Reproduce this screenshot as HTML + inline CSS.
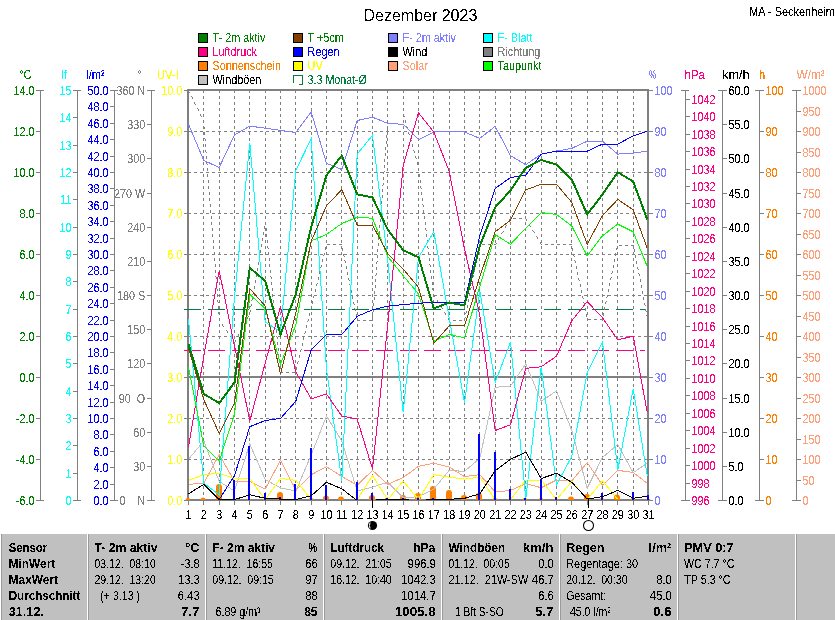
<!DOCTYPE html>
<html><head><meta charset="utf-8"><title>Dezember 2023</title>
<style>
html,body{margin:0;padding:0;background:#fff}
body{width:835px;height:620px;position:relative;overflow:hidden;font-family:"Liberation Sans",sans-serif;color:#000}
</style></head><body>
<svg width="835" height="620" viewBox="0 0 835 620" style="position:absolute;left:0;top:0" font-family="Liberation Sans, sans-serif">
<defs><filter id="aa" x="0" y="0" width="100%" height="100%" filterUnits="userSpaceOnUse" color-interpolation-filters="sRGB"><feComponentTransfer><feFuncA type="discrete" tableValues="0 0 0 0 0 0 0 0 0 1 1 1 1 1 1 1 1 1 1 1"/></feComponentTransfer></filter></defs>
<rect x="0" y="0" width="835" height="620" fill="#fff"/>
<g stroke="#808080" stroke-width="1" stroke-dasharray="3,3" shape-rendering="crispEdges">
<line x1="203.5" y1="90" x2="203.5" y2="499"/>
<line x1="219.5" y1="90" x2="219.5" y2="499"/>
<line x1="234.5" y1="90" x2="234.5" y2="499"/>
<line x1="249.5" y1="90" x2="249.5" y2="499"/>
<line x1="265.5" y1="90" x2="265.5" y2="499"/>
<line x1="280.5" y1="90" x2="280.5" y2="499"/>
<line x1="295.5" y1="90" x2="295.5" y2="499"/>
<line x1="311.5" y1="90" x2="311.5" y2="499"/>
<line x1="326.5" y1="90" x2="326.5" y2="499"/>
<line x1="341.5" y1="90" x2="341.5" y2="499"/>
<line x1="357.5" y1="90" x2="357.5" y2="499"/>
<line x1="372.5" y1="90" x2="372.5" y2="499"/>
<line x1="387.5" y1="90" x2="387.5" y2="499"/>
<line x1="403.5" y1="90" x2="403.5" y2="499"/>
<line x1="418.5" y1="90" x2="418.5" y2="499"/>
<line x1="433.5" y1="90" x2="433.5" y2="499"/>
<line x1="449.5" y1="90" x2="449.5" y2="499"/>
<line x1="464.5" y1="90" x2="464.5" y2="499"/>
<line x1="479.5" y1="90" x2="479.5" y2="499"/>
<line x1="495.5" y1="90" x2="495.5" y2="499"/>
<line x1="510.5" y1="90" x2="510.5" y2="499"/>
<line x1="525.5" y1="90" x2="525.5" y2="499"/>
<line x1="541.5" y1="90" x2="541.5" y2="499"/>
<line x1="556.5" y1="90" x2="556.5" y2="499"/>
<line x1="571.5" y1="90" x2="571.5" y2="499"/>
<line x1="587.5" y1="90" x2="587.5" y2="499"/>
<line x1="602.5" y1="90" x2="602.5" y2="499"/>
<line x1="617.5" y1="90" x2="617.5" y2="499"/>
<line x1="633.5" y1="90" x2="633.5" y2="499"/>
<line x1="188" y1="131.5" x2="648" y2="131.5"/>
<line x1="188" y1="172.5" x2="648" y2="172.5"/>
<line x1="188" y1="213.5" x2="648" y2="213.5"/>
<line x1="188" y1="254.5" x2="648" y2="254.5"/>
<line x1="188" y1="295.5" x2="648" y2="295.5"/>
<line x1="188" y1="336.5" x2="648" y2="336.5"/>
<line x1="188" y1="418.5" x2="648" y2="418.5"/>
<line x1="188" y1="459.5" x2="648" y2="459.5"/>
</g>
<line x1="189" y1="377" x2="648" y2="377" stroke="#808080" stroke-width="2" shape-rendering="crispEdges"/>
<rect x="188" y="90" width="460" height="410" fill="none" stroke="#808080" stroke-width="2" shape-rendering="crispEdges"/>
<path d="M185.5 500A2.5 2.0 0 0 1 190.5 500Z" fill="#ff8000"/>
<path d="M200.5 500A2.5 2.5 0 0 1 205.5 500Z" fill="#ff8000"/>
<path d="M216 500V487.0A3 3 0 0 1 222 487.0V500Z" fill="#ff8000"/>
<path d="M231.5 500A2.5 1.5 0 0 1 236.5 500Z" fill="#ff8000"/>
<path d="M246.5 500A2.5 1.5 0 0 1 251.5 500Z" fill="#ff8000"/>
<path d="M262.5 500A2.5 1.5 0 0 1 267.5 500Z" fill="#ff8000"/>
<path d="M277 500V495.0A3 3 0 0 1 283 495.0V500Z" fill="#ff8000"/>
<path d="M292.5 500A2.5 1.5 0 0 1 297.5 500Z" fill="#ff8000"/>
<path d="M308.5 500A2.5 2.0 0 0 1 313.5 500Z" fill="#ff8000"/>
<path d="M323 500V498.5A3 3 0 0 1 329 498.5V500Z" fill="#ff8000"/>
<path d="M338 500V499.5A3 3 0 0 1 344 499.5V500Z" fill="#ff8000"/>
<path d="M354.5 500A2.5 1.5 0 0 1 359.5 500Z" fill="#ff8000"/>
<path d="M369 500V498.0A3 3 0 0 1 375 498.0V500Z" fill="#ff8000"/>
<path d="M384.5 500A2.5 2.5 0 0 1 389.5 500Z" fill="#ff8000"/>
<path d="M400 500V498.0A3 3 0 0 1 406 498.0V500Z" fill="#ff8000"/>
<path d="M415 500V496.0A3 3 0 0 1 421 496.0V500Z" fill="#ff8000"/>
<path d="M430 500V489.0A3 3 0 0 1 436 489.0V500Z" fill="#ff8000"/>
<path d="M446 500V493.0A3 3 0 0 1 452 493.0V500Z" fill="#ff8000"/>
<path d="M461 500V498.0A3 3 0 0 1 467 498.0V500Z" fill="#ff8000"/>
<path d="M476 500V496.0A3 3 0 0 1 482 496.0V500Z" fill="#ff8000"/>
<path d="M492.5 500A2.5 2.0 0 0 1 497.5 500Z" fill="#ff8000"/>
<path d="M507.5 500A2.5 1.5 0 0 1 512.5 500Z" fill="#ff8000"/>
<path d="M522.5 500A2.5 2.0 0 0 1 527.5 500Z" fill="#ff8000"/>
<path d="M538.5 500A2.5 2.0 0 0 1 543.5 500Z" fill="#ff8000"/>
<path d="M553.5 500A2.5 1.5 0 0 1 558.5 500Z" fill="#ff8000"/>
<path d="M568 500V499.5A3 3 0 0 1 574 499.5V500Z" fill="#ff8000"/>
<path d="M584 500V497.0A3 3 0 0 1 590 497.0V500Z" fill="#ff8000"/>
<path d="M599.5 500A2.5 2.0 0 0 1 604.5 500Z" fill="#ff8000"/>
<path d="M614 500V497.5A3 3 0 0 1 620 497.5V500Z" fill="#ff8000"/>
<path d="M630.5 500A2.5 2.0 0 0 1 635.5 500Z" fill="#ff8000"/>
<path d="M645.5 500A2.5 1.5 0 0 1 650.5 500Z" fill="#ff8000"/>
<line x1="184" y1="309.5" x2="645" y2="309.5" stroke="#008040" stroke-width="1" stroke-dasharray="17,7" shape-rendering="crispEdges"/>
<line x1="184" y1="350.5" x2="645" y2="350.5" stroke="#ff0080" stroke-width="1" stroke-dasharray="17,7" shape-rendering="crispEdges"/>
<clipPath id="cp"><rect x="187" y="89" width="461" height="410"/></clipPath>
<g fill="none" shape-rendering="crispEdges" stroke-linejoin="miter" clip-path="url(#cp)">
<path d="M188 90.5h1M188 91.5h1M189 92.5h1M191 96.5h1M192 97.5h1M192 98.5h1M194 102.5h1M194 103.5h1M195 104.5h1M197 108.5h1M198 109.5h1M198 110.5h1M200 114.5h1M403 114.5h1M200 115.5h1M403 115.5h1M201 116.5h1M404 116.5h1M203 120.5h1M405 120.5h1M203 121.5h1M405 121.5h1M203 122.5h1M405 122.5h1M203 126.5h1M406 126.5h1M204 127.5h1M407 127.5h1M204 128.5h1M407 128.5h1M387 129.5h1M387 130.5h1M387 131.5h1M204 132.5h1M408 132.5h1M204 133.5h1M408 133.5h1M204 134.5h1M409 134.5h1M386 135.5h1M386 136.5h1M386 137.5h1M204 138.5h1M410 138.5h1M205 139.5h1M410 139.5h1M205 140.5h1M411 140.5h1M386 141.5h1M386 142.5h1M386 143.5h1M205 144.5h1M412 144.5h1M205 145.5h1M412 145.5h1M205 146.5h1M412 146.5h1M385 147.5h1M385 148.5h1M385 149.5h1M205 150.5h1M413 150.5h1M205 151.5h1M414 151.5h1M206 152.5h1M414 152.5h1M385 153.5h1M385 154.5h1M385 155.5h1M206 156.5h1M415 156.5h1M206 157.5h1M415 157.5h1M206 158.5h1M416 158.5h1M384 159.5h1M384 160.5h1M384 161.5h1M206 162.5h1M417 162.5h1M206 163.5h1M417 163.5h1M207 164.5h1M417 164.5h1M384 165.5h1M384 166.5h1M384 167.5h1M207 168.5h1M418 168.5h1M207 169.5h1M418 169.5h1M207 170.5h1M418 170.5h1M384 171.5h1M383 172.5h1M383 173.5h1M207 174.5h1M419 174.5h1M207 175.5h1M419 175.5h1M207 176.5h1M419 176.5h1M383 177.5h1M383 178.5h1M383 179.5h1M208 180.5h1M420 180.5h1M208 181.5h1M420 181.5h1M208 182.5h1M420 182.5h1M383 183.5h1M383 184.5h1M382 185.5h1M208 186.5h1M420 186.5h1M208 187.5h1M420 187.5h1M208 188.5h1M421 188.5h1M382 189.5h1M382 190.5h1M382 191.5h1M209 192.5h1M421 192.5h1M209 193.5h1M421 193.5h1M209 194.5h1M421 194.5h1M382 195.5h1M382 196.5h1M382 197.5h1M209 198.5h1M422 198.5h1M209 199.5h1M422 199.5h1M209 200.5h1M422 200.5h1M381 201.5h1M381 202.5h1M381 203.5h1M210 204.5h1M422 204.5h1M210 205.5h1M423 205.5h1M210 206.5h1M423 206.5h1M381 207.5h1M381 208.5h1M381 209.5h1M210 210.5h1M423 210.5h1M210 211.5h1M423 211.5h1M210 212.5h1M423 212.5h1M380 213.5h1M380 214.5h1M380 215.5h1M211 216.5h1M424 216.5h1M211 217.5h1M424 217.5h1M211 218.5h1M424 218.5h1M513 218.5h3M519 218.5h3M525 218.5h1M380 219.5h1M509 219.5h1M526 219.5h1M380 220.5h1M509 220.5h1M526 220.5h1M380 221.5h1M508 221.5h1M211 222.5h1M265 222.5h1M425 222.5h1M211 223.5h1M265 223.5h1M425 223.5h1M211 224.5h1M265 224.5h1M425 224.5h1M529 224.5h1M379 225.5h1M506 225.5h1M529 225.5h1M264 226.5h1M379 226.5h1M505 226.5h1M530 226.5h1M264 227.5h1M379 227.5h1M505 227.5h1M212 228.5h1M264 228.5h1M266 228.5h1M425 228.5h1M212 229.5h1M266 229.5h1M425 229.5h1M212 230.5h1M266 230.5h1M426 230.5h1M532 230.5h1M379 231.5h1M503 231.5h1M533 231.5h1M263 232.5h1M379 232.5h1M502 232.5h1M534 232.5h1M263 233.5h1M379 233.5h1M501 233.5h1M212 234.5h1M263 234.5h1M266 234.5h1M426 234.5h1M212 235.5h1M266 235.5h1M426 235.5h1M212 236.5h1M266 236.5h1M426 236.5h1M536 236.5h1M378 237.5h1M499 237.5h1M537 237.5h1M262 238.5h1M378 238.5h1M498 238.5h1M537 238.5h1M262 239.5h1M378 239.5h1M498 239.5h1M213 240.5h1M262 240.5h1M267 240.5h1M427 240.5h1M213 241.5h1M267 241.5h1M427 241.5h1M213 242.5h1M267 242.5h1M427 242.5h1M540 242.5h1M378 243.5h1M496 243.5h1M540 243.5h1M261 244.5h1M327 244.5h3M333 244.5h3M339 244.5h3M378 244.5h1M482 244.5h3M488 244.5h3M494 244.5h2M541 244.5h1M545 244.5h3M551 244.5h3M557 244.5h3M563 244.5h3M569 244.5h3M261 245.5h1M378 245.5h1M479 245.5h1M619 245.5h3M625 245.5h3M631 245.5h3M213 246.5h1M261 246.5h1M267 246.5h1M427 246.5h1M479 246.5h1M213 247.5h1M267 247.5h1M325 247.5h1M427 247.5h1M478 247.5h1M617 247.5h1M213 248.5h1M268 248.5h1M325 248.5h1M342 248.5h1M428 248.5h1M572 248.5h1M616 248.5h1M325 249.5h1M342 249.5h1M377 249.5h1M572 249.5h1M616 249.5h1M634 249.5h1M260 250.5h1M342 250.5h1M377 250.5h1M572 250.5h1M634 250.5h1M260 251.5h1M377 251.5h1M478 251.5h1M634 251.5h1M214 252.5h1M260 252.5h1M268 252.5h1M428 252.5h1M477 252.5h1M214 253.5h1M268 253.5h1M324 253.5h1M428 253.5h1M477 253.5h1M615 253.5h1M214 254.5h1M268 254.5h1M324 254.5h1M343 254.5h1M428 254.5h1M573 254.5h1M615 254.5h1M323 255.5h1M343 255.5h1M377 255.5h1M573 255.5h1M615 255.5h1M635 255.5h1M259 256.5h1M344 256.5h1M377 256.5h1M574 256.5h1M635 256.5h1M259 257.5h1M377 257.5h1M476 257.5h1M635 257.5h1M214 258.5h1M259 258.5h1M269 258.5h1M429 258.5h1M476 258.5h1M214 259.5h1M269 259.5h1M322 259.5h1M429 259.5h1M476 259.5h1M614 259.5h1M214 260.5h1M269 260.5h1M322 260.5h1M344 260.5h1M429 260.5h1M574 260.5h1M614 260.5h1M322 261.5h1M345 261.5h1M377 261.5h1M575 261.5h1M614 261.5h1M636 261.5h1M258 262.5h1M345 262.5h1M376 262.5h1M575 262.5h1M636 262.5h1M258 263.5h1M376 263.5h1M475 263.5h1M636 263.5h1M215 264.5h1M258 264.5h1M269 264.5h1M429 264.5h1M475 264.5h1M215 265.5h1M269 265.5h1M321 265.5h1M430 265.5h1M475 265.5h1M613 265.5h1M215 266.5h1M269 266.5h1M321 266.5h1M346 266.5h1M430 266.5h1M576 266.5h1M613 266.5h1M320 267.5h1M346 267.5h1M376 267.5h1M576 267.5h1M613 267.5h1M637 267.5h1M257 268.5h1M346 268.5h1M376 268.5h1M576 268.5h1M637 268.5h1M257 269.5h1M376 269.5h1M474 269.5h1M638 269.5h1M215 270.5h1M257 270.5h1M270 270.5h1M430 270.5h1M474 270.5h1M215 271.5h1M270 271.5h1M319 271.5h1M430 271.5h1M474 271.5h1M612 271.5h1M215 272.5h1M270 272.5h1M319 272.5h1M347 272.5h1M430 272.5h1M577 272.5h1M612 272.5h1M319 273.5h1M347 273.5h1M376 273.5h1M577 273.5h1M611 273.5h1M638 273.5h1M256 274.5h1M347 274.5h1M376 274.5h1M577 274.5h1M639 274.5h1M256 275.5h1M375 275.5h1M473 275.5h1M639 275.5h1M215 276.5h1M256 276.5h1M270 276.5h1M431 276.5h1M473 276.5h1M216 277.5h1M271 277.5h1M318 277.5h1M431 277.5h1M472 277.5h1M611 277.5h1M216 278.5h1M271 278.5h1M318 278.5h1M348 278.5h1M431 278.5h1M578 278.5h1M610 278.5h1M318 279.5h1M348 279.5h1M375 279.5h1M578 279.5h1M610 279.5h1M640 279.5h1M255 280.5h1M349 280.5h1M375 280.5h1M579 280.5h1M640 280.5h1M255 281.5h1M375 281.5h1M472 281.5h1M640 281.5h1M216 282.5h1M255 282.5h1M271 282.5h1M432 282.5h1M472 282.5h1M216 283.5h1M271 283.5h1M317 283.5h1M432 283.5h1M471 283.5h1M609 283.5h1M216 284.5h1M271 284.5h1M316 284.5h1M349 284.5h1M432 284.5h1M580 284.5h1M609 284.5h1M316 285.5h1M350 285.5h1M375 285.5h1M580 285.5h1M609 285.5h1M641 285.5h1M254 286.5h1M350 286.5h1M375 286.5h1M580 286.5h1M641 286.5h1M254 287.5h1M375 287.5h1M471 287.5h1M641 287.5h1M216 288.5h1M254 288.5h1M272 288.5h1M432 288.5h1M470 288.5h1M217 289.5h1M272 289.5h1M315 289.5h1M432 289.5h1M470 289.5h1M608 289.5h1M217 290.5h1M272 290.5h1M315 290.5h1M351 290.5h1M433 290.5h1M581 290.5h1M608 290.5h1M315 291.5h1M351 291.5h1M374 291.5h1M581 291.5h1M608 291.5h1M642 291.5h1M253 292.5h1M351 292.5h1M374 292.5h1M581 292.5h1M642 292.5h1M253 293.5h1M374 293.5h1M469 293.5h1M642 293.5h1M217 294.5h1M252 294.5h1M272 294.5h1M433 294.5h1M469 294.5h1M217 295.5h1M272 295.5h1M314 295.5h1M434 295.5h1M469 295.5h1M607 295.5h1M217 296.5h1M272 296.5h1M313 296.5h1M352 296.5h1M434 296.5h1M582 296.5h1M607 296.5h1M313 297.5h1M352 297.5h1M374 297.5h1M582 297.5h1M606 297.5h1M643 297.5h1M252 298.5h1M352 298.5h1M374 298.5h1M583 298.5h1M643 298.5h1M252 299.5h1M374 299.5h1M468 299.5h1M643 299.5h1M217 300.5h1M251 300.5h1M273 300.5h1M437 300.5h1M468 300.5h1M217 301.5h1M273 301.5h1M312 301.5h1M437 301.5h1M468 301.5h1M606 301.5h1M218 302.5h1M273 302.5h1M312 302.5h1M353 302.5h1M438 302.5h1M583 302.5h1M605 302.5h1M312 303.5h1M353 303.5h1M373 303.5h1M584 303.5h1M605 303.5h1M644 303.5h1M251 304.5h1M354 304.5h1M373 304.5h1M584 304.5h1M644 304.5h1M251 305.5h1M373 305.5h1M467 305.5h1M645 305.5h1M218 306.5h1M250 306.5h1M273 306.5h1M440 306.5h1M467 306.5h1M218 307.5h1M273 307.5h1M311 307.5h1M441 307.5h1M467 307.5h1M604 307.5h1M218 308.5h1M274 308.5h1M311 308.5h1M354 308.5h1M442 308.5h1M585 308.5h1M604 308.5h1M310 309.5h1M355 309.5h1M373 309.5h1M585 309.5h1M604 309.5h1M645 309.5h1M250 310.5h1M355 310.5h1M373 310.5h1M585 310.5h1M645 310.5h1M250 311.5h1M373 311.5h1M466 311.5h1M646 311.5h1M218 312.5h1M249 312.5h1M274 312.5h1M444 312.5h1M466 312.5h1M218 313.5h1M274 313.5h1M309 313.5h1M445 313.5h1M465 313.5h1M603 313.5h1M219 314.5h1M274 314.5h1M309 314.5h1M356 314.5h1M445 314.5h1M586 314.5h1M603 314.5h1M309 315.5h1M356 315.5h1M372 315.5h1M586 315.5h1M603 315.5h1M646 315.5h1M248 316.5h1M356 316.5h1M372 316.5h1M586 316.5h1M647 316.5h1M247 317.5h1M372 317.5h1M465 317.5h1M647 317.5h1M219 318.5h1M247 318.5h1M275 318.5h1M448 318.5h1M464 318.5h1M219 319.5h1M275 319.5h1M308 319.5h1M448 319.5h1M464 319.5h1M588 319.5h3M594 319.5h3M600 319.5h3M219 320.5h1M275 320.5h1M308 320.5h1M357 320.5h3M363 320.5h3M369 320.5h3M449 320.5h1M453 320.5h3M459 320.5h3M307 321.5h1M245 322.5h1M244 323.5h1M222 324.5h1M244 324.5h1M275 324.5h1M222 325.5h1M275 325.5h1M306 325.5h1M223 326.5h1M275 326.5h1M306 326.5h1M306 327.5h1M242 328.5h1M241 329.5h1M226 330.5h1M240 330.5h1M276 330.5h1M227 331.5h1M276 331.5h1M305 331.5h1M227 332.5h1M276 332.5h1M305 332.5h1M304 333.5h1M238 334.5h1M238 335.5h1M230 336.5h1M237 336.5h1M276 336.5h1M231 337.5h1M277 337.5h1M303 337.5h1M231 338.5h1M277 338.5h1M303 338.5h1M303 339.5h1M235 340.5h1M235 341.5h1M234 342.5h1M277 342.5h1M277 343.5h1M302 343.5h1M277 344.5h1M302 344.5h1M302 345.5h1M278 348.5h1M278 349.5h1M301 349.5h1M278 350.5h1M300 350.5h1M300 351.5h1M278 354.5h1M278 355.5h1M299 355.5h1M278 356.5h1M299 356.5h1M299 357.5h1M279 360.5h1M279 361.5h1M298 361.5h1M279 362.5h1M297 362.5h1M297 363.5h1M279 366.5h1M279 367.5h1M296 367.5h1M280 368.5h1M296 368.5h1M296 369.5h1M280 372.5h3M286 372.5h3M292 372.5h3" stroke="#808080" stroke-width="1" fill="none"/>
<polyline points="188.5,459.3 203.8,441.0 219.2,481.4 234.5,491.0 249.8,444.0 265.2,479.5 280.5,488.0 295.8,491.0 311.2,455.0 326.5,416.0 341.8,441.0 357.2,491.0 372.5,487.1 387.8,482.3 403.2,497.7 418.5,496.7 433.8,489.0 449.2,470.4 464.5,471.4 479.8,458.3 495.2,387.3 510.5,386.0 525.8,363.9 541.2,401.3 556.5,390.8 571.8,430.5 587.2,488.1 602.5,457.4 617.8,444.5 633.2,472.7 647.2,463.1" stroke="#c0c0c0" stroke-width="1"/>
<polyline points="188.5,484.3 203.8,483.3 219.2,454.5 234.5,481.4 249.8,481.4 265.2,489.0 280.5,460.3 295.8,490.0 311.2,474.7 326.5,466.6 341.8,476.5 357.2,485.2 372.5,470.4 387.8,484.3 403.2,477.5 418.5,466.4 433.8,463.1 449.2,467.0 464.5,476.6 479.8,474.7 495.2,492.0 510.5,490.4 525.8,483.7 541.2,487.7 556.5,480.0 571.8,480.8 587.2,462.6 602.5,485.2 617.8,470.4 633.2,472.4 647.2,483.3" stroke="#ffa07a" stroke-width="1"/>
<polyline points="188.5,480.4 203.8,474.7 219.2,473.3 234.5,478.5 249.8,478.5 265.2,499.6 280.5,478.5 295.8,480.4 311.2,499.6 326.5,499.6 341.8,499.6 357.2,499.6 372.5,475.6 387.8,499.6 403.2,481.0 418.5,499.6 433.8,474.7 449.2,477.2 464.5,479.1 479.8,477.2 495.2,499.6 510.5,499.6 525.8,480.0 541.2,480.0 556.5,499.6 571.8,481.4 587.2,499.6 602.5,480.8 617.8,499.6 633.2,499.6 647.2,499.6" stroke="#ffff00" stroke-width="1"/>
<polyline points="188.5,319.2 203.8,483.3 219.2,494.8 234.5,297.0 249.8,142.6 265.2,322.0 280.5,331.7 295.8,170.4 311.2,138.7 326.5,369.0 341.8,481.0 357.2,154.1 372.5,135.3 387.8,261.0 403.2,412.3 418.5,257.6 433.8,231.7 449.2,318.0 464.5,402.7 479.8,291.0 495.2,382.5 510.5,342.2 525.8,498.5 541.2,366.5 556.5,484.8 571.8,456.4 587.2,372.5 602.5,342.2 617.8,469.9 633.2,388.8 647.2,475.6" stroke="#00ffff" stroke-width="1"/>
<polyline points="188.5,124.3 203.8,160.4 219.2,167.5 234.5,134.9 249.8,126.1 265.2,128.2 280.5,130.3 295.8,132.6 311.2,111.9 326.5,163.3 341.8,169.5 357.2,120.5 372.5,117.2 387.8,123.4 403.2,124.3 418.5,139.7 433.8,132.0 449.2,131.0 464.5,132.0 479.8,138.4 495.2,126.3 510.5,155.6 525.8,164.7 541.2,154.1 556.5,151.2 571.8,148.3 587.2,141.2 602.5,141.2 617.8,154.1 633.2,153.1 647.2,151.2" stroke="#8080ff" stroke-width="1"/>
<polyline points="188.5,446.8 203.8,356.0 219.2,270.6 234.5,346.0 249.8,421.0 265.2,363.0 280.5,306.5 295.8,372.0 311.2,398.8 326.5,394.0 341.8,416.0 357.2,419.0 372.5,469.0 387.8,324.0 403.2,165.6 418.5,112.8 433.8,132.0 449.2,171.4 464.5,249.0 479.8,315.0 495.2,430.5 510.5,424.8 525.8,368.3 541.2,366.8 556.5,356.2 571.8,320.7 587.2,301.5 602.5,317.8 617.8,339.9 633.2,336.1 647.2,412.3" stroke="#ff0080" stroke-width="1"/>
<polyline points="188.5,367.0 203.8,445.9 219.2,461.2 234.5,414.0 249.8,294.5 265.2,308.5 280.5,364.3 295.8,325.0 311.2,240.9 326.5,234.5 341.8,223.5 357.2,217.3 372.5,218.2 387.8,256.6 403.2,275.8 418.5,294.0 433.8,341.3 449.2,334.5 464.5,337.8 479.8,286.4 495.2,234.6 510.5,244.3 525.8,228.0 541.2,212.6 556.5,214.5 571.8,226.1 587.2,255.8 602.5,235.7 617.8,224.1 633.2,231.8 647.2,266.4" stroke="#00ff00" stroke-width="1"/>
<polyline points="188.5,348.0 203.8,399.8 219.2,433.4 234.5,403.0 249.8,288.7 265.2,306.0 280.5,373.9 295.8,313.0 311.2,241.3 326.5,205.8 341.8,189.6 357.2,225.0 372.5,225.0 387.8,253.7 403.2,269.0 418.5,287.3 433.8,343.2 449.2,325.9 464.5,325.9 479.8,276.8 495.2,231.7 510.5,220.3 525.8,189.8 541.2,184.3 556.5,184.3 571.8,202.4 587.2,244.3 602.5,215.5 617.8,199.4 633.2,209.8 647.2,248.1" stroke="#804000" stroke-width="1"/>
<polyline points="188.5,500.0 203.8,500.0 219.2,499.6 234.5,475.6 249.8,426.7 265.2,420.5 280.5,418.4 295.8,401.2 311.2,349.9 326.5,334.5 341.8,334.5 357.2,316.4 372.5,309.8 387.8,306.1 403.2,304.6 418.5,303.3 433.8,302.3 449.2,302.3 464.5,302.3 479.8,236.0 495.2,188.5 510.5,177.5 525.8,175.2 541.2,154.1 556.5,151.2 571.8,151.2 587.2,151.2 602.5,144.1 617.8,144.1 633.2,135.9 647.2,131.4" stroke="#0000ff" stroke-width="1"/>
<polyline points="188.5,344.1 203.8,394.0 219.2,403.0 234.5,382.5 249.8,267.8 265.2,281.0 280.5,334.5 295.8,294.0 311.2,226.9 326.5,175.2 341.8,155.5 357.2,194.4 372.5,197.5 387.8,229.8 403.2,250.3 418.5,257.2 433.8,308.4 449.2,302.7 464.5,305.2 479.8,246.0 495.2,207.3 510.5,190.4 525.8,167.9 541.2,159.9 556.5,164.7 571.8,179.5 587.2,214.5 602.5,194.4 617.8,172.3 633.2,181.5 647.2,219.3" stroke="#008000" stroke-width="2"/>
</g>
<rect x="233" y="480" width="2" height="20" fill="#0000ff" shape-rendering="crispEdges"/>
<rect x="248" y="446" width="2" height="54" fill="#0000ff" shape-rendering="crispEdges"/>
<rect x="264" y="493" width="2" height="7" fill="#0000ff" shape-rendering="crispEdges"/>
<rect x="279" y="497" width="2" height="3" fill="#0000ff" shape-rendering="crispEdges"/>
<rect x="294" y="484" width="2" height="16" fill="#0000ff" shape-rendering="crispEdges"/>
<rect x="310" y="448" width="2" height="52" fill="#0000ff" shape-rendering="crispEdges"/>
<rect x="325" y="485" width="2" height="15" fill="#0000ff" shape-rendering="crispEdges"/>
<rect x="356" y="482" width="2" height="18" fill="#0000ff" shape-rendering="crispEdges"/>
<rect x="371" y="493" width="2" height="7" fill="#0000ff" shape-rendering="crispEdges"/>
<rect x="386" y="498" width="2" height="2" fill="#0000ff" shape-rendering="crispEdges"/>
<rect x="402" y="498" width="2" height="2" fill="#0000ff" shape-rendering="crispEdges"/>
<rect x="417" y="498" width="2" height="2" fill="#0000ff" shape-rendering="crispEdges"/>
<rect x="432" y="498" width="2" height="2" fill="#0000ff" shape-rendering="crispEdges"/>
<rect x="478" y="434" width="2" height="66" fill="#0000ff" shape-rendering="crispEdges"/>
<rect x="494" y="452" width="2" height="48" fill="#0000ff" shape-rendering="crispEdges"/>
<rect x="509" y="489" width="2" height="11" fill="#0000ff" shape-rendering="crispEdges"/>
<rect x="524" y="498" width="2" height="2" fill="#0000ff" shape-rendering="crispEdges"/>
<rect x="540" y="479" width="2" height="21" fill="#0000ff" shape-rendering="crispEdges"/>
<rect x="555" y="497" width="2" height="3" fill="#0000ff" shape-rendering="crispEdges"/>
<rect x="601" y="493" width="2" height="7" fill="#0000ff" shape-rendering="crispEdges"/>
<rect x="632" y="492" width="2" height="8" fill="#0000ff" shape-rendering="crispEdges"/>
<rect x="647" y="495" width="2" height="5" fill="#0000ff" shape-rendering="crispEdges"/>
<clipPath id="cw"><rect x="187" y="89" width="461" height="411"/></clipPath>
<polyline points="188.5,493.8 203.8,484.3 219.2,499.6 234.5,499.6 249.8,494.8 265.2,498.3 280.5,499.0 295.8,499.6 311.2,495.8 326.5,482.3 341.8,488.8 357.2,500.6 372.5,500.2 387.8,499.3 403.2,499.6 418.5,500.6 433.8,499.4 449.2,499.3 464.5,498.3 479.8,493.8 495.2,470.8 510.5,459.3 525.8,452.2 541.2,478.5 556.5,473.3 571.8,482.3 587.2,499.0 602.5,496.7 617.8,490.4 633.2,498.3 647.2,496.3" stroke="#000" stroke-width="1" fill="none" shape-rendering="crispEdges" clip-path="url(#cw)"/>
<g stroke="#808080" stroke-width="1" shape-rendering="crispEdges"><line x1="40.5" y1="90" x2="40.5" y2="501"/><line x1="36.0" y1="90.5" x2="40.5" y2="90.5"/><line x1="36.0" y1="131.5" x2="40.5" y2="131.5"/><line x1="36.0" y1="172.5" x2="40.5" y2="172.5"/><line x1="36.0" y1="213.5" x2="40.5" y2="213.5"/><line x1="36.0" y1="254.5" x2="40.5" y2="254.5"/><line x1="36.0" y1="295.5" x2="40.5" y2="295.5"/><line x1="36.0" y1="336.5" x2="40.5" y2="336.5"/><line x1="36.0" y1="377.5" x2="40.5" y2="377.5"/><line x1="36.0" y1="418.5" x2="40.5" y2="418.5"/><line x1="36.0" y1="459.5" x2="40.5" y2="459.5"/><line x1="36.0" y1="500.5" x2="40.5" y2="500.5"/><line x1="36.0" y1="90.5" x2="44.0" y2="90.5"/><line x1="36.0" y1="500.5" x2="44.0" y2="500.5"/></g>
<g stroke="#808080" stroke-width="1" shape-rendering="crispEdges"><line x1="77.5" y1="90" x2="77.5" y2="501"/><line x1="73.0" y1="90.5" x2="77.5" y2="90.5"/><line x1="73.0" y1="117.5" x2="77.5" y2="117.5"/><line x1="73.0" y1="145.5" x2="77.5" y2="145.5"/><line x1="73.0" y1="172.5" x2="77.5" y2="172.5"/><line x1="73.0" y1="199.5" x2="77.5" y2="199.5"/><line x1="73.0" y1="227.5" x2="77.5" y2="227.5"/><line x1="73.0" y1="254.5" x2="77.5" y2="254.5"/><line x1="73.0" y1="281.5" x2="77.5" y2="281.5"/><line x1="73.0" y1="309.5" x2="77.5" y2="309.5"/><line x1="73.0" y1="336.5" x2="77.5" y2="336.5"/><line x1="73.0" y1="363.5" x2="77.5" y2="363.5"/><line x1="73.0" y1="391.5" x2="77.5" y2="391.5"/><line x1="73.0" y1="418.5" x2="77.5" y2="418.5"/><line x1="73.0" y1="445.5" x2="77.5" y2="445.5"/><line x1="73.0" y1="473.5" x2="77.5" y2="473.5"/><line x1="73.0" y1="500.5" x2="77.5" y2="500.5"/><line x1="73.0" y1="90.5" x2="81.0" y2="90.5"/><line x1="73.0" y1="500.5" x2="81.0" y2="500.5"/></g>
<g stroke="#808080" stroke-width="1" shape-rendering="crispEdges"><line x1="114.5" y1="90" x2="114.5" y2="501"/><line x1="110.0" y1="90.5" x2="114.5" y2="90.5"/><line x1="110.0" y1="106.5" x2="114.5" y2="106.5"/><line x1="110.0" y1="123.5" x2="114.5" y2="123.5"/><line x1="110.0" y1="139.5" x2="114.5" y2="139.5"/><line x1="110.0" y1="156.5" x2="114.5" y2="156.5"/><line x1="110.0" y1="172.5" x2="114.5" y2="172.5"/><line x1="110.0" y1="188.5" x2="114.5" y2="188.5"/><line x1="110.0" y1="205.5" x2="114.5" y2="205.5"/><line x1="110.0" y1="221.5" x2="114.5" y2="221.5"/><line x1="110.0" y1="238.5" x2="114.5" y2="238.5"/><line x1="110.0" y1="254.5" x2="114.5" y2="254.5"/><line x1="110.0" y1="270.5" x2="114.5" y2="270.5"/><line x1="110.0" y1="287.5" x2="114.5" y2="287.5"/><line x1="110.0" y1="303.5" x2="114.5" y2="303.5"/><line x1="110.0" y1="320.5" x2="114.5" y2="320.5"/><line x1="110.0" y1="336.5" x2="114.5" y2="336.5"/><line x1="110.0" y1="352.5" x2="114.5" y2="352.5"/><line x1="110.0" y1="369.5" x2="114.5" y2="369.5"/><line x1="110.0" y1="385.5" x2="114.5" y2="385.5"/><line x1="110.0" y1="402.5" x2="114.5" y2="402.5"/><line x1="110.0" y1="418.5" x2="114.5" y2="418.5"/><line x1="110.0" y1="434.5" x2="114.5" y2="434.5"/><line x1="110.0" y1="451.5" x2="114.5" y2="451.5"/><line x1="110.0" y1="467.5" x2="114.5" y2="467.5"/><line x1="110.0" y1="484.5" x2="114.5" y2="484.5"/><line x1="110.0" y1="500.5" x2="114.5" y2="500.5"/><line x1="110.0" y1="90.5" x2="118.0" y2="90.5"/><line x1="110.0" y1="500.5" x2="118.0" y2="500.5"/></g>
<g stroke="#808080" stroke-width="1" shape-rendering="crispEdges"><line x1="151.5" y1="90" x2="151.5" y2="501"/><line x1="147.0" y1="90.5" x2="151.5" y2="90.5"/><line x1="147.0" y1="124.5" x2="151.5" y2="124.5"/><line x1="147.0" y1="158.5" x2="151.5" y2="158.5"/><line x1="147.0" y1="193.5" x2="151.5" y2="193.5"/><line x1="147.0" y1="227.5" x2="151.5" y2="227.5"/><line x1="147.0" y1="261.5" x2="151.5" y2="261.5"/><line x1="147.0" y1="295.5" x2="151.5" y2="295.5"/><line x1="147.0" y1="329.5" x2="151.5" y2="329.5"/><line x1="147.0" y1="363.5" x2="151.5" y2="363.5"/><line x1="147.0" y1="398.5" x2="151.5" y2="398.5"/><line x1="147.0" y1="432.5" x2="151.5" y2="432.5"/><line x1="147.0" y1="466.5" x2="151.5" y2="466.5"/><line x1="147.0" y1="500.5" x2="151.5" y2="500.5"/><line x1="147.0" y1="90.5" x2="155.0" y2="90.5"/><line x1="147.0" y1="500.5" x2="155.0" y2="500.5"/></g>
<g stroke="#808080" stroke-width="1" shape-rendering="crispEdges"><line x1="184.0" y1="90.5" x2="188.5" y2="90.5"/><line x1="184.0" y1="131.5" x2="188.5" y2="131.5"/><line x1="184.0" y1="172.5" x2="188.5" y2="172.5"/><line x1="184.0" y1="213.5" x2="188.5" y2="213.5"/><line x1="184.0" y1="254.5" x2="188.5" y2="254.5"/><line x1="184.0" y1="295.5" x2="188.5" y2="295.5"/><line x1="184.0" y1="336.5" x2="188.5" y2="336.5"/><line x1="184.0" y1="377.5" x2="188.5" y2="377.5"/><line x1="184.0" y1="418.5" x2="188.5" y2="418.5"/><line x1="184.0" y1="459.5" x2="188.5" y2="459.5"/><line x1="184.0" y1="500.5" x2="188.5" y2="500.5"/></g>
<g stroke="#808080" stroke-width="1" shape-rendering="crispEdges"><line x1="648.5" y1="90.5" x2="653.0" y2="90.5"/><line x1="648.5" y1="131.5" x2="653.0" y2="131.5"/><line x1="648.5" y1="172.5" x2="653.0" y2="172.5"/><line x1="648.5" y1="213.5" x2="653.0" y2="213.5"/><line x1="648.5" y1="254.5" x2="653.0" y2="254.5"/><line x1="648.5" y1="295.5" x2="653.0" y2="295.5"/><line x1="648.5" y1="336.5" x2="653.0" y2="336.5"/><line x1="648.5" y1="377.5" x2="653.0" y2="377.5"/><line x1="648.5" y1="418.5" x2="653.0" y2="418.5"/><line x1="648.5" y1="459.5" x2="653.0" y2="459.5"/><line x1="648.5" y1="500.5" x2="653.0" y2="500.5"/></g>
<g stroke="#808080" stroke-width="1" shape-rendering="crispEdges"><line x1="685.5" y1="90" x2="685.5" y2="501"/><line x1="685.5" y1="500.5" x2="690.0" y2="500.5"/><line x1="685.5" y1="483.5" x2="690.0" y2="483.5"/><line x1="685.5" y1="465.5" x2="690.0" y2="465.5"/><line x1="685.5" y1="448.5" x2="690.0" y2="448.5"/><line x1="685.5" y1="430.5" x2="690.0" y2="430.5"/><line x1="685.5" y1="413.5" x2="690.0" y2="413.5"/><line x1="685.5" y1="395.5" x2="690.0" y2="395.5"/><line x1="685.5" y1="378.5" x2="690.0" y2="378.5"/><line x1="685.5" y1="360.5" x2="690.0" y2="360.5"/><line x1="685.5" y1="343.5" x2="690.0" y2="343.5"/><line x1="685.5" y1="326.5" x2="690.0" y2="326.5"/><line x1="685.5" y1="308.5" x2="690.0" y2="308.5"/><line x1="685.5" y1="291.5" x2="690.0" y2="291.5"/><line x1="685.5" y1="273.5" x2="690.0" y2="273.5"/><line x1="685.5" y1="256.5" x2="690.0" y2="256.5"/><line x1="685.5" y1="238.5" x2="690.0" y2="238.5"/><line x1="685.5" y1="221.5" x2="690.0" y2="221.5"/><line x1="685.5" y1="203.5" x2="690.0" y2="203.5"/><line x1="685.5" y1="186.5" x2="690.0" y2="186.5"/><line x1="685.5" y1="169.5" x2="690.0" y2="169.5"/><line x1="685.5" y1="151.5" x2="690.0" y2="151.5"/><line x1="685.5" y1="134.5" x2="690.0" y2="134.5"/><line x1="685.5" y1="116.5" x2="690.0" y2="116.5"/><line x1="685.5" y1="99.5" x2="690.0" y2="99.5"/><line x1="681.0" y1="90.5" x2="689.0" y2="90.5"/><line x1="681.0" y1="500.5" x2="689.0" y2="500.5"/></g>
<g stroke="#808080" stroke-width="1" shape-rendering="crispEdges"><line x1="722.5" y1="90" x2="722.5" y2="501"/><line x1="722.5" y1="90.5" x2="727.0" y2="90.5"/><line x1="722.5" y1="124.5" x2="727.0" y2="124.5"/><line x1="722.5" y1="158.5" x2="727.0" y2="158.5"/><line x1="722.5" y1="193.5" x2="727.0" y2="193.5"/><line x1="722.5" y1="227.5" x2="727.0" y2="227.5"/><line x1="722.5" y1="261.5" x2="727.0" y2="261.5"/><line x1="722.5" y1="295.5" x2="727.0" y2="295.5"/><line x1="722.5" y1="329.5" x2="727.0" y2="329.5"/><line x1="722.5" y1="363.5" x2="727.0" y2="363.5"/><line x1="722.5" y1="398.5" x2="727.0" y2="398.5"/><line x1="722.5" y1="432.5" x2="727.0" y2="432.5"/><line x1="722.5" y1="466.5" x2="727.0" y2="466.5"/><line x1="722.5" y1="500.5" x2="727.0" y2="500.5"/><line x1="718.0" y1="90.5" x2="726.0" y2="90.5"/><line x1="718.0" y1="500.5" x2="726.0" y2="500.5"/></g>
<g stroke="#808080" stroke-width="1" shape-rendering="crispEdges"><line x1="759.5" y1="90" x2="759.5" y2="501"/><line x1="759.5" y1="90.5" x2="764.0" y2="90.5"/><line x1="759.5" y1="131.5" x2="764.0" y2="131.5"/><line x1="759.5" y1="172.5" x2="764.0" y2="172.5"/><line x1="759.5" y1="213.5" x2="764.0" y2="213.5"/><line x1="759.5" y1="254.5" x2="764.0" y2="254.5"/><line x1="759.5" y1="295.5" x2="764.0" y2="295.5"/><line x1="759.5" y1="336.5" x2="764.0" y2="336.5"/><line x1="759.5" y1="377.5" x2="764.0" y2="377.5"/><line x1="759.5" y1="418.5" x2="764.0" y2="418.5"/><line x1="759.5" y1="459.5" x2="764.0" y2="459.5"/><line x1="759.5" y1="500.5" x2="764.0" y2="500.5"/><line x1="755.0" y1="90.5" x2="763.0" y2="90.5"/><line x1="755.0" y1="500.5" x2="763.0" y2="500.5"/></g>
<g stroke="#808080" stroke-width="1" shape-rendering="crispEdges"><line x1="796.5" y1="90" x2="796.5" y2="501"/><line x1="796.5" y1="90.5" x2="801.0" y2="90.5"/><line x1="796.5" y1="111.5" x2="801.0" y2="111.5"/><line x1="796.5" y1="131.5" x2="801.0" y2="131.5"/><line x1="796.5" y1="152.5" x2="801.0" y2="152.5"/><line x1="796.5" y1="172.5" x2="801.0" y2="172.5"/><line x1="796.5" y1="193.5" x2="801.0" y2="193.5"/><line x1="796.5" y1="213.5" x2="801.0" y2="213.5"/><line x1="796.5" y1="234.5" x2="801.0" y2="234.5"/><line x1="796.5" y1="254.5" x2="801.0" y2="254.5"/><line x1="796.5" y1="275.5" x2="801.0" y2="275.5"/><line x1="796.5" y1="295.5" x2="801.0" y2="295.5"/><line x1="796.5" y1="316.5" x2="801.0" y2="316.5"/><line x1="796.5" y1="336.5" x2="801.0" y2="336.5"/><line x1="796.5" y1="357.5" x2="801.0" y2="357.5"/><line x1="796.5" y1="377.5" x2="801.0" y2="377.5"/><line x1="796.5" y1="398.5" x2="801.0" y2="398.5"/><line x1="796.5" y1="418.5" x2="801.0" y2="418.5"/><line x1="796.5" y1="439.5" x2="801.0" y2="439.5"/><line x1="796.5" y1="459.5" x2="801.0" y2="459.5"/><line x1="796.5" y1="480.5" x2="801.0" y2="480.5"/><line x1="796.5" y1="500.5" x2="801.0" y2="500.5"/><line x1="792.0" y1="90.5" x2="800.0" y2="90.5"/><line x1="792.0" y1="500.5" x2="800.0" y2="500.5"/></g>
<g stroke="#808080" stroke-width="1" shape-rendering="crispEdges">
<line x1="188.5" y1="501" x2="188.5" y2="505"/>
<line x1="203.5" y1="501" x2="203.5" y2="505"/>
<line x1="219.5" y1="501" x2="219.5" y2="505"/>
<line x1="234.5" y1="501" x2="234.5" y2="505"/>
<line x1="249.5" y1="501" x2="249.5" y2="505"/>
<line x1="265.5" y1="501" x2="265.5" y2="505"/>
<line x1="280.5" y1="501" x2="280.5" y2="505"/>
<line x1="295.5" y1="501" x2="295.5" y2="505"/>
<line x1="311.5" y1="501" x2="311.5" y2="505"/>
<line x1="326.5" y1="501" x2="326.5" y2="505"/>
<line x1="341.5" y1="501" x2="341.5" y2="505"/>
<line x1="357.5" y1="501" x2="357.5" y2="505"/>
<line x1="372.5" y1="501" x2="372.5" y2="505"/>
<line x1="387.5" y1="501" x2="387.5" y2="505"/>
<line x1="403.5" y1="501" x2="403.5" y2="505"/>
<line x1="418.5" y1="501" x2="418.5" y2="505"/>
<line x1="433.5" y1="501" x2="433.5" y2="505"/>
<line x1="449.5" y1="501" x2="449.5" y2="505"/>
<line x1="464.5" y1="501" x2="464.5" y2="505"/>
<line x1="479.5" y1="501" x2="479.5" y2="505"/>
<line x1="495.5" y1="501" x2="495.5" y2="505"/>
<line x1="510.5" y1="501" x2="510.5" y2="505"/>
<line x1="525.5" y1="501" x2="525.5" y2="505"/>
<line x1="541.5" y1="501" x2="541.5" y2="505"/>
<line x1="556.5" y1="501" x2="556.5" y2="505"/>
<line x1="571.5" y1="501" x2="571.5" y2="505"/>
<line x1="587.5" y1="501" x2="587.5" y2="505"/>
<line x1="602.5" y1="501" x2="602.5" y2="505"/>
<line x1="617.5" y1="501" x2="617.5" y2="505"/>
<line x1="633.5" y1="501" x2="633.5" y2="505"/>
<line x1="648.5" y1="501" x2="648.5" y2="505"/>
</g>
<g stroke="#000" stroke-width="1" shape-rendering="crispEdges">
<line x1="372.5" y1="499" x2="372.5" y2="508"/>
<line x1="588.5" y1="499" x2="588.5" y2="508"/>
</g>
<circle cx="372.5" cy="525.5" r="4.6" fill="#000"/>
<path d="M370 522.5Q369 525.5 370 528.5" fill="none" stroke="#fff" stroke-width="1"/>
<circle cx="588.5" cy="525.5" r="5" fill="#fff" stroke="#000" stroke-width="1.1"/>
<rect x="198.5" y="33.5" width="9" height="9" fill="#008000" stroke="#000" stroke-width="1" shape-rendering="crispEdges"/>
<rect x="293.5" y="33.5" width="9" height="9" fill="#804000" stroke="#000" stroke-width="1" shape-rendering="crispEdges"/>
<rect x="388.5" y="33.5" width="9" height="9" fill="#8080ff" stroke="#000" stroke-width="1" shape-rendering="crispEdges"/>
<rect x="483.5" y="33.5" width="9" height="9" fill="#00ffff" stroke="#000" stroke-width="1" shape-rendering="crispEdges"/>
<rect x="198.5" y="47.5" width="9" height="9" fill="#ff0080" stroke="#000" stroke-width="1" shape-rendering="crispEdges"/>
<rect x="293.5" y="47.5" width="9" height="9" fill="#0000ff" stroke="#000" stroke-width="1" shape-rendering="crispEdges"/>
<rect x="388.5" y="47.5" width="9" height="9" fill="#000000" stroke="#000" stroke-width="1" shape-rendering="crispEdges"/>
<rect x="483.5" y="47.5" width="9" height="9" fill="#808080" stroke="#000" stroke-width="1" shape-rendering="crispEdges"/>
<rect x="198.5" y="61.5" width="9" height="9" fill="#ff8000" stroke="#000" stroke-width="1" shape-rendering="crispEdges"/>
<rect x="293.5" y="61.5" width="9" height="9" fill="#ffff00" stroke="#000" stroke-width="1" shape-rendering="crispEdges"/>
<rect x="388.5" y="61.5" width="9" height="9" fill="#ffa07a" stroke="#000" stroke-width="1" shape-rendering="crispEdges"/>
<rect x="483.5" y="61.5" width="9" height="9" fill="#00ff00" stroke="#000" stroke-width="1" shape-rendering="crispEdges"/>
<rect x="198.5" y="75.5" width="9" height="9" fill="#c0c0c0" stroke="#000" stroke-width="1" shape-rendering="crispEdges"/>
<path d="M293.5 83V75.5H302.5V84.5H299" fill="none" stroke="#008040" stroke-width="1" shape-rendering="crispEdges"/>
<rect x="1" y="534" width="834" height="86" fill="#c0c0c0"/>
<rect x="1" y="534" width="1" height="86" fill="#9a9a9a"/>
<rect x="87" y="534" width="1" height="86" fill="#fff"/><rect x="88" y="534" width="1" height="86" fill="#9a9a9a"/>
<rect x="205" y="534" width="1" height="86" fill="#fff"/><rect x="206" y="534" width="1" height="86" fill="#9a9a9a"/>
<rect x="323" y="534" width="1" height="86" fill="#fff"/><rect x="324" y="534" width="1" height="86" fill="#9a9a9a"/>
<rect x="441" y="534" width="1" height="86" fill="#fff"/><rect x="442" y="534" width="1" height="86" fill="#9a9a9a"/>
<rect x="559" y="534" width="1" height="86" fill="#fff"/><rect x="560" y="534" width="1" height="86" fill="#9a9a9a"/>
<rect x="677" y="534" width="1" height="86" fill="#fff"/><rect x="678" y="534" width="1" height="86" fill="#9a9a9a"/>
<rect x="795" y="534" width="1" height="86" fill="#fff"/><rect x="796" y="534" width="1" height="86" fill="#9a9a9a"/>
<g filter="url(#aa)"><g fill="#008000" font-size="12" text-anchor="end"><text transform="translate(34.5 94.7) scale(0.9 1)">14.0</text><text transform="translate(34.5 135.7) scale(0.9 1)">12.0</text><text transform="translate(34.5 176.7) scale(0.9 1)">10.0</text><text transform="translate(34.5 217.7) scale(0.9 1)">8.0</text><text transform="translate(34.5 258.7) scale(0.9 1)">6.0</text><text transform="translate(34.5 299.7) scale(0.9 1)">4.0</text><text transform="translate(34.5 340.7) scale(0.9 1)">2.0</text><text transform="translate(34.5 381.7) scale(0.9 1)">0.0</text><text transform="translate(34.5 422.7) scale(0.9 1)">-2.0</text><text transform="translate(34.5 463.7) scale(0.9 1)">-4.0</text><text transform="translate(34.5 504.7) scale(0.9 1)">-6.0</text></g>
<g fill="#00ffff" font-size="12" text-anchor="end"><text transform="translate(71.5 94.7) scale(0.9 1)">15</text><text transform="translate(71.5 121.7) scale(0.9 1)">14</text><text transform="translate(71.5 149.7) scale(0.9 1)">13</text><text transform="translate(71.5 176.7) scale(0.9 1)">12</text><text transform="translate(71.5 203.7) scale(0.9 1)">11</text><text transform="translate(71.5 231.7) scale(0.9 1)">10</text><text transform="translate(71.5 258.7) scale(0.9 1)">9</text><text transform="translate(71.5 285.7) scale(0.9 1)">8</text><text transform="translate(71.5 313.7) scale(0.9 1)">7</text><text transform="translate(71.5 340.7) scale(0.9 1)">6</text><text transform="translate(71.5 367.7) scale(0.9 1)">5</text><text transform="translate(71.5 395.7) scale(0.9 1)">4</text><text transform="translate(71.5 422.7) scale(0.9 1)">3</text><text transform="translate(71.5 449.7) scale(0.9 1)">2</text><text transform="translate(71.5 477.7) scale(0.9 1)">1</text><text transform="translate(71.5 504.7) scale(0.9 1)">0</text></g>
<g fill="#0000ff" font-size="12" text-anchor="end"><text transform="translate(108.5 94.7) scale(0.9 1)">50.0</text><text transform="translate(108.5 110.7) scale(0.9 1)">48.0</text><text transform="translate(108.5 127.7) scale(0.9 1)">46.0</text><text transform="translate(108.5 143.7) scale(0.9 1)">44.0</text><text transform="translate(108.5 160.7) scale(0.9 1)">42.0</text><text transform="translate(108.5 176.7) scale(0.9 1)">40.0</text><text transform="translate(108.5 192.7) scale(0.9 1)">38.0</text><text transform="translate(108.5 209.7) scale(0.9 1)">36.0</text><text transform="translate(108.5 225.7) scale(0.9 1)">34.0</text><text transform="translate(108.5 242.7) scale(0.9 1)">32.0</text><text transform="translate(108.5 258.7) scale(0.9 1)">30.0</text><text transform="translate(108.5 274.7) scale(0.9 1)">28.0</text><text transform="translate(108.5 291.7) scale(0.9 1)">26.0</text><text transform="translate(108.5 307.7) scale(0.9 1)">24.0</text><text transform="translate(108.5 324.7) scale(0.9 1)">22.0</text><text transform="translate(108.5 340.7) scale(0.9 1)">20.0</text><text transform="translate(108.5 356.7) scale(0.9 1)">18.0</text><text transform="translate(108.5 373.7) scale(0.9 1)">16.0</text><text transform="translate(108.5 389.7) scale(0.9 1)">14.0</text><text transform="translate(108.5 406.7) scale(0.9 1)">12.0</text><text transform="translate(108.5 422.7) scale(0.9 1)">10.0</text><text transform="translate(108.5 438.7) scale(0.9 1)">8.0</text><text transform="translate(108.5 455.7) scale(0.9 1)">6.0</text><text transform="translate(108.5 471.7) scale(0.9 1)">4.0</text><text transform="translate(108.5 488.7) scale(0.9 1)">2.0</text><text transform="translate(108.5 504.7) scale(0.9 1)">0.0</text></g>
<g fill="#808080" font-size="12" text-anchor="end"><text transform="translate(145.2 94.7) scale(0.9 1)">360 N</text><text transform="translate(145.2 128.7) scale(0.9 1)">330</text><text transform="translate(145.2 162.7) scale(0.9 1)">300</text><text transform="translate(145.2 197.7) scale(0.9 1)">270 W</text><text transform="translate(145.2 231.7) scale(0.9 1)">240</text><text transform="translate(145.2 265.7) scale(0.9 1)">210</text><text transform="translate(145.2 299.7) scale(0.9 1)">180 S</text><text transform="translate(145.2 333.7) scale(0.9 1)">150</text><text transform="translate(145.2 367.7) scale(0.9 1)">120</text><text transform="translate(145.2 402.7) scale(0.9 1)">90&#160;&#160;O</text><text transform="translate(145.2 436.7) scale(0.9 1)">60</text><text transform="translate(145.2 470.7) scale(0.9 1)">30</text><text transform="translate(145.2 504.7) scale(0.9 1)">0&#160;&#160;&#160;&#160;N</text></g>
<g fill="#ffff00" font-size="12" text-anchor="end"><text transform="translate(182.2 94.7) scale(0.9 1)">10.0</text><text transform="translate(182.2 135.7) scale(0.9 1)">9.0</text><text transform="translate(182.2 176.7) scale(0.9 1)">8.0</text><text transform="translate(182.2 217.7) scale(0.9 1)">7.0</text><text transform="translate(182.2 258.7) scale(0.9 1)">6.0</text><text transform="translate(182.2 299.7) scale(0.9 1)">5.0</text><text transform="translate(182.2 340.7) scale(0.9 1)">4.0</text><text transform="translate(182.2 381.7) scale(0.9 1)">3.0</text><text transform="translate(182.2 422.7) scale(0.9 1)">2.0</text><text transform="translate(182.2 463.7) scale(0.9 1)">1.0</text><text transform="translate(182.2 504.7) scale(0.9 1)">0.0</text></g>
<g fill="#8080ff" font-size="12" text-anchor="start"><text transform="translate(654.5 94.7) scale(0.9 1)">100</text><text transform="translate(654.5 135.7) scale(0.9 1)">90</text><text transform="translate(654.5 176.7) scale(0.9 1)">80</text><text transform="translate(654.5 217.7) scale(0.9 1)">70</text><text transform="translate(654.5 258.7) scale(0.9 1)">60</text><text transform="translate(654.5 299.7) scale(0.9 1)">50</text><text transform="translate(654.5 340.7) scale(0.9 1)">40</text><text transform="translate(654.5 381.7) scale(0.9 1)">30</text><text transform="translate(654.5 422.7) scale(0.9 1)">20</text><text transform="translate(654.5 463.7) scale(0.9 1)">10</text><text transform="translate(654.5 504.7) scale(0.9 1)">0</text></g>
<g fill="#ff0080" font-size="12" text-anchor="start"><text transform="translate(691.5 504.7) scale(0.9 1)">996</text><text transform="translate(691.5 487.7) scale(0.9 1)">998</text><text transform="translate(691.5 469.7) scale(0.9 1)">1000</text><text transform="translate(691.5 452.7) scale(0.9 1)">1002</text><text transform="translate(691.5 434.7) scale(0.9 1)">1004</text><text transform="translate(691.5 417.7) scale(0.9 1)">1006</text><text transform="translate(691.5 399.7) scale(0.9 1)">1008</text><text transform="translate(691.5 382.7) scale(0.9 1)">1010</text><text transform="translate(691.5 364.7) scale(0.9 1)">1012</text><text transform="translate(691.5 347.7) scale(0.9 1)">1014</text><text transform="translate(691.5 330.7) scale(0.9 1)">1016</text><text transform="translate(691.5 312.7) scale(0.9 1)">1018</text><text transform="translate(691.5 295.7) scale(0.9 1)">1020</text><text transform="translate(691.5 277.7) scale(0.9 1)">1022</text><text transform="translate(691.5 260.7) scale(0.9 1)">1024</text><text transform="translate(691.5 242.7) scale(0.9 1)">1026</text><text transform="translate(691.5 225.7) scale(0.9 1)">1028</text><text transform="translate(691.5 207.7) scale(0.9 1)">1030</text><text transform="translate(691.5 190.7) scale(0.9 1)">1032</text><text transform="translate(691.5 173.7) scale(0.9 1)">1034</text><text transform="translate(691.5 155.7) scale(0.9 1)">1036</text><text transform="translate(691.5 138.7) scale(0.9 1)">1038</text><text transform="translate(691.5 120.7) scale(0.9 1)">1040</text><text transform="translate(691.5 103.7) scale(0.9 1)">1042</text></g>
<g fill="#000" font-size="12" text-anchor="start"><text transform="translate(728.5 94.7) scale(0.9 1)">60.0</text><text transform="translate(728.5 128.7) scale(0.9 1)">55.0</text><text transform="translate(728.5 162.7) scale(0.9 1)">50.0</text><text transform="translate(728.5 197.7) scale(0.9 1)">45.0</text><text transform="translate(728.5 231.7) scale(0.9 1)">40.0</text><text transform="translate(728.5 265.7) scale(0.9 1)">35.0</text><text transform="translate(728.5 299.7) scale(0.9 1)">30.0</text><text transform="translate(728.5 333.7) scale(0.9 1)">25.0</text><text transform="translate(728.5 367.7) scale(0.9 1)">20.0</text><text transform="translate(728.5 402.7) scale(0.9 1)">15.0</text><text transform="translate(728.5 436.7) scale(0.9 1)">10.0</text><text transform="translate(728.5 470.7) scale(0.9 1)">5.0</text><text transform="translate(728.5 504.7) scale(0.9 1)">0.0</text></g>
<g fill="#ff8000" font-size="12" text-anchor="start"><text transform="translate(765.5 94.7) scale(0.9 1)">100</text><text transform="translate(765.5 135.7) scale(0.9 1)">90</text><text transform="translate(765.5 176.7) scale(0.9 1)">80</text><text transform="translate(765.5 217.7) scale(0.9 1)">70</text><text transform="translate(765.5 258.7) scale(0.9 1)">60</text><text transform="translate(765.5 299.7) scale(0.9 1)">50</text><text transform="translate(765.5 340.7) scale(0.9 1)">40</text><text transform="translate(765.5 381.7) scale(0.9 1)">30</text><text transform="translate(765.5 422.7) scale(0.9 1)">20</text><text transform="translate(765.5 463.7) scale(0.9 1)">10</text><text transform="translate(765.5 504.7) scale(0.9 1)">0</text></g>
<g fill="#ffa07a" font-size="12" text-anchor="start"><text transform="translate(802.5 94.7) scale(0.9 1)">1000</text><text transform="translate(802.5 115.7) scale(0.9 1)">950</text><text transform="translate(802.5 135.7) scale(0.9 1)">900</text><text transform="translate(802.5 156.7) scale(0.9 1)">850</text><text transform="translate(802.5 176.7) scale(0.9 1)">800</text><text transform="translate(802.5 197.7) scale(0.9 1)">750</text><text transform="translate(802.5 217.7) scale(0.9 1)">700</text><text transform="translate(802.5 238.7) scale(0.9 1)">650</text><text transform="translate(802.5 258.7) scale(0.9 1)">600</text><text transform="translate(802.5 279.7) scale(0.9 1)">550</text><text transform="translate(802.5 299.7) scale(0.9 1)">500</text><text transform="translate(802.5 320.7) scale(0.9 1)">450</text><text transform="translate(802.5 340.7) scale(0.9 1)">400</text><text transform="translate(802.5 361.7) scale(0.9 1)">350</text><text transform="translate(802.5 381.7) scale(0.9 1)">300</text><text transform="translate(802.5 402.7) scale(0.9 1)">250</text><text transform="translate(802.5 422.7) scale(0.9 1)">200</text><text transform="translate(802.5 443.7) scale(0.9 1)">150</text><text transform="translate(802.5 463.7) scale(0.9 1)">100</text><text transform="translate(802.5 484.7) scale(0.9 1)">50</text><text transform="translate(802.5 504.7) scale(0.9 1)">0</text></g>
<text transform="translate(19.3 78.8) scale(0.9 1)" font-size="12" fill="#008000" text-anchor="start">°C</text>
<text transform="translate(61.8 78.8) scale(0.88 1)" font-size="12" fill="#00ffff" text-anchor="start">lf</text>
<text transform="translate(86.3 78.8) scale(0.92 1)" font-size="12" fill="#0000ff" text-anchor="start">l/m²</text>
<text transform="translate(137.5 78.8) scale(0.88 1)" font-size="12" fill="#808080" text-anchor="start">°</text>
<text transform="translate(156.8 78.8) scale(0.95 1)" font-size="12" fill="#ffff00" text-anchor="start">UV-I</text>
<text transform="translate(649.0 78.8) scale(0.68 1)" font-size="12" fill="#8080ff" text-anchor="start">%</text>
<text transform="translate(684.6 78.8) scale(0.95 1)" font-size="12" fill="#ff0080" text-anchor="start">hPa</text>
<text transform="translate(722.2 78.8) scale(1.05 1)" font-size="12" fill="#000" text-anchor="start">km/h</text>
<text transform="translate(759.3 78.8) scale(0.88 1)" font-size="12" fill="#ff8000" text-anchor="start">h</text>
<text transform="translate(796.5 78.8) scale(0.985 1)" font-size="12" fill="#ffa07a" text-anchor="start">W/m²</text>
<text transform="translate(188.5 518.7) scale(0.9 1)" font-size="12" fill="#000" text-anchor="middle">1</text>
<text transform="translate(203.8 518.7) scale(0.9 1)" font-size="12" fill="#000" text-anchor="middle">2</text>
<text transform="translate(219.2 518.7) scale(0.9 1)" font-size="12" fill="#000" text-anchor="middle">3</text>
<text transform="translate(234.5 518.7) scale(0.9 1)" font-size="12" fill="#000" text-anchor="middle">4</text>
<text transform="translate(249.8 518.7) scale(0.9 1)" font-size="12" fill="#000" text-anchor="middle">5</text>
<text transform="translate(265.2 518.7) scale(0.9 1)" font-size="12" fill="#000" text-anchor="middle">6</text>
<text transform="translate(280.5 518.7) scale(0.9 1)" font-size="12" fill="#000" text-anchor="middle">7</text>
<text transform="translate(295.8 518.7) scale(0.9 1)" font-size="12" fill="#000" text-anchor="middle">8</text>
<text transform="translate(311.2 518.7) scale(0.9 1)" font-size="12" fill="#000" text-anchor="middle">9</text>
<text transform="translate(326.5 518.7) scale(0.9 1)" font-size="12" fill="#000" text-anchor="middle">10</text>
<text transform="translate(341.8 518.7) scale(0.9 1)" font-size="12" fill="#000" text-anchor="middle">11</text>
<text transform="translate(357.2 518.7) scale(0.9 1)" font-size="12" fill="#000" text-anchor="middle">12</text>
<text transform="translate(372.5 518.7) scale(0.9 1)" font-size="12" fill="#000" text-anchor="middle">13</text>
<text transform="translate(387.8 518.7) scale(0.9 1)" font-size="12" fill="#000" text-anchor="middle">14</text>
<text transform="translate(403.2 518.7) scale(0.9 1)" font-size="12" fill="#000" text-anchor="middle">15</text>
<text transform="translate(418.5 518.7) scale(0.9 1)" font-size="12" fill="#000" text-anchor="middle">16</text>
<text transform="translate(433.8 518.7) scale(0.9 1)" font-size="12" fill="#000" text-anchor="middle">17</text>
<text transform="translate(449.2 518.7) scale(0.9 1)" font-size="12" fill="#000" text-anchor="middle">18</text>
<text transform="translate(464.5 518.7) scale(0.9 1)" font-size="12" fill="#000" text-anchor="middle">19</text>
<text transform="translate(479.8 518.7) scale(0.9 1)" font-size="12" fill="#000" text-anchor="middle">20</text>
<text transform="translate(495.2 518.7) scale(0.9 1)" font-size="12" fill="#000" text-anchor="middle">21</text>
<text transform="translate(510.5 518.7) scale(0.9 1)" font-size="12" fill="#000" text-anchor="middle">22</text>
<text transform="translate(525.8 518.7) scale(0.9 1)" font-size="12" fill="#000" text-anchor="middle">23</text>
<text transform="translate(541.2 518.7) scale(0.9 1)" font-size="12" fill="#000" text-anchor="middle">24</text>
<text transform="translate(556.5 518.7) scale(0.9 1)" font-size="12" fill="#000" text-anchor="middle">25</text>
<text transform="translate(571.8 518.7) scale(0.9 1)" font-size="12" fill="#000" text-anchor="middle">26</text>
<text transform="translate(587.2 518.7) scale(0.9 1)" font-size="12" fill="#000" text-anchor="middle">27</text>
<text transform="translate(602.5 518.7) scale(0.9 1)" font-size="12" fill="#000" text-anchor="middle">28</text>
<text transform="translate(617.8 518.7) scale(0.9 1)" font-size="12" fill="#000" text-anchor="middle">29</text>
<text transform="translate(633.2 518.7) scale(0.9 1)" font-size="12" fill="#000" text-anchor="middle">30</text>
<text transform="translate(648.5 518.7) scale(0.9 1)" font-size="12" fill="#000" text-anchor="middle">31</text>
<text x="420.4" y="21" font-size="16" text-anchor="middle" fill="#000">Dezember 2023</text>
<text transform="translate(834.8 15.8) scale(0.91 1)" font-size="12" fill="#000" text-anchor="end">MA - Seckenheim</text>
<text transform="translate(212.6 41.7) scale(0.9 1)" font-size="12" fill="#008000" text-anchor="start">T- 2m aktiv</text>
<text transform="translate(307.6 41.7) scale(0.9 1)" font-size="12" fill="#008000" text-anchor="start">T +5cm</text>
<text transform="translate(402.6 41.7) scale(0.9 1)" font-size="12" fill="#8080ff" text-anchor="start">F- 2m aktiv</text>
<text transform="translate(497.6 41.7) scale(0.9 1)" font-size="12" fill="#00ffff" text-anchor="start">F- Blatt</text>
<text transform="translate(212.6 55.7) scale(0.9 1)" font-size="12" fill="#ff0080" text-anchor="start">Luftdruck</text>
<text transform="translate(307.6 55.7) scale(0.9 1)" font-size="12" fill="#0000ff" text-anchor="start">Regen</text>
<text transform="translate(402.6 55.7) scale(0.9 1)" font-size="12" fill="#000" text-anchor="start">Wind</text>
<text transform="translate(497.6 55.7) scale(0.9 1)" font-size="12" fill="#808080" text-anchor="start">Richtung</text>
<text transform="translate(212.6 69.7) scale(0.9 1)" font-size="12" fill="#ff8000" text-anchor="start">Sonnenschein</text>
<text transform="translate(307.6 69.7) scale(0.9 1)" font-size="12" fill="#ffff00" text-anchor="start">UV</text>
<text transform="translate(402.6 69.7) scale(0.9 1)" font-size="12" fill="#ffa07a" text-anchor="start">Solar</text>
<text transform="translate(497.6 69.7) scale(0.9 1)" font-size="12" fill="#008000" text-anchor="start">Taupunkt</text>
<text transform="translate(212.6 83.7) scale(0.9 1)" font-size="12" fill="#000" text-anchor="start">Windböen</text>
<text transform="translate(307.6 83.5) scale(0.89 1)" font-size="12" fill="#008040" text-anchor="start">3.3 Monat-Ø</text><text transform="translate(8.7 551.5) scale(0.943 1)" font-size="12" fill="#000" text-anchor="start" font-weight="bold">Sensor</text>
<text transform="translate(8.7 567.5) scale(0.989 1)" font-size="12" fill="#000" text-anchor="start" font-weight="bold">MinWert</text>
<text transform="translate(8.7 583.5) scale(0.99 1)" font-size="12" fill="#000" text-anchor="start" font-weight="bold">MaxWert</text>
<text transform="translate(8.7 599.5) scale(0.968 1)" font-size="12" fill="#000" text-anchor="start" font-weight="bold">Durchschnitt</text>
<text transform="translate(8.7 615.5) scale(1.06 1)" font-size="12" fill="#000" text-anchor="start" font-weight="bold">31.12.</text>
<text transform="translate(94.5 551.5) scale(1.015 1)" font-size="12" fill="#000" text-anchor="start" font-weight="bold">T- 2m aktiv</text>
<text transform="translate(199.3 551.5) scale(1.05 1)" font-size="12" fill="#000" text-anchor="end" font-weight="bold">°C</text>
<text transform="translate(94.5 567.5) scale(0.876 1)" font-size="12" fill="#000" text-anchor="start">03.12.&#160;&#160;08:10</text>
<text transform="translate(199.8 567.5) scale(0.94 1)" font-size="12" fill="#000" text-anchor="end">-3.8</text>
<text transform="translate(94.5 583.5) scale(0.876 1)" font-size="12" fill="#000" text-anchor="start">29.12.&#160;&#160;13:20</text>
<text transform="translate(199.8 583.5) scale(0.94 1)" font-size="12" fill="#000" text-anchor="end">13.3</text>
<text transform="translate(100.3 599.5) scale(0.884 1)" font-size="12" fill="#000" text-anchor="start">(+ 3.13 )</text>
<text transform="translate(199.8 599.5) scale(0.94 1)" font-size="12" fill="#000" text-anchor="end">6.43</text>
<text transform="translate(199.6 615.5) scale(1.1 1)" font-size="12" fill="#000" text-anchor="end" font-weight="bold">7.7</text>
<text transform="translate(212.3 551.5) scale(1.002 1)" font-size="12" fill="#000" text-anchor="start" font-weight="bold">F- 2m aktiv</text>
<text transform="translate(317.2 551.5) scale(0.81 1)" font-size="12" fill="#000" text-anchor="end" font-weight="bold">%</text>
<text transform="translate(212.3 567.5) scale(0.876 1)" font-size="12" fill="#000" text-anchor="start">11.12.&#160;&#160;16:55</text>
<text transform="translate(317.8 567.5) scale(0.94 1)" font-size="12" fill="#000" text-anchor="end">66</text>
<text transform="translate(212.3 583.5) scale(0.876 1)" font-size="12" fill="#000" text-anchor="start">09.12.&#160;&#160;09:15</text>
<text transform="translate(317.8 583.5) scale(0.94 1)" font-size="12" fill="#000" text-anchor="end">97</text>
<text transform="translate(317.8 599.5) scale(0.94 1)" font-size="12" fill="#000" text-anchor="end">88</text>
<text transform="translate(215.5 615.5) scale(0.892 1)" font-size="12" fill="#000" text-anchor="start">6.89 g/m³</text>
<text transform="translate(317.6 615.5) scale(1.01 1)" font-size="12" fill="#000" text-anchor="end" font-weight="bold">85</text>
<text transform="translate(330.3 551.5) scale(0.974 1)" font-size="12" fill="#000" text-anchor="start" font-weight="bold">Luftdruck</text>
<text transform="translate(435.4 551.5) scale(1.02 1)" font-size="12" fill="#000" text-anchor="end" font-weight="bold">hPa</text>
<text transform="translate(330.3 567.5) scale(0.876 1)" font-size="12" fill="#000" text-anchor="start">09.12.&#160;&#160;21:05</text>
<text transform="translate(435.8 567.5) scale(0.94 1)" font-size="12" fill="#000" text-anchor="end">996.9</text>
<text transform="translate(330.3 583.5) scale(0.876 1)" font-size="12" fill="#000" text-anchor="start">16.12.&#160;&#160;10:40</text>
<text transform="translate(435.8 583.5) scale(0.95 1)" font-size="12" fill="#000" text-anchor="end">1042.3</text>
<text transform="translate(435.8 599.5) scale(0.95 1)" font-size="12" fill="#000" text-anchor="end">1014.7</text>
<text transform="translate(435.6 615.5) scale(1.11 1)" font-size="12" fill="#000" text-anchor="end" font-weight="bold">1005.8</text>
<text transform="translate(448.5 551.5) scale(0.981 1)" font-size="12" fill="#000" text-anchor="start" font-weight="bold">Windböen</text>
<text transform="translate(553.4 551.5) scale(1.09 1)" font-size="12" fill="#000" text-anchor="end" font-weight="bold">km/h</text>
<text transform="translate(448.5 567.5) scale(0.876 1)" font-size="12" fill="#000" text-anchor="start">01.12.&#160;&#160;00:05</text>
<text transform="translate(553.8 567.5) scale(0.94 1)" font-size="12" fill="#000" text-anchor="end">0.0</text>
<text transform="translate(448.5 583.5) scale(0.908 1)" font-size="12" fill="#000" text-anchor="start">21.12.&#160;&#160;21W-SW</text>
<text transform="translate(553.8 583.5) scale(0.94 1)" font-size="12" fill="#000" text-anchor="end">46.7</text>
<text transform="translate(553.8 599.5) scale(0.94 1)" font-size="12" fill="#000" text-anchor="end">6.6</text>
<text transform="translate(455.0 615.5) scale(0.848 1)" font-size="12" fill="#000" text-anchor="start">1 Bft S-SO</text>
<text transform="translate(553.6 615.5) scale(1.1 1)" font-size="12" fill="#000" text-anchor="end" font-weight="bold">5.7</text>
<text transform="translate(566.2 551.5) scale(1.043 1)" font-size="12" fill="#000" text-anchor="start" font-weight="bold">Regen</text>
<text transform="translate(671.4 551.5) scale(1.07 1)" font-size="12" fill="#000" text-anchor="end" font-weight="bold">l/m²</text>
<text transform="translate(566.2 567.5) scale(0.914 1)" font-size="12" fill="#000" text-anchor="start">Regentage: 30</text>
<text transform="translate(566.2 583.5) scale(0.876 1)" font-size="12" fill="#000" text-anchor="start">20.12.&#160;&#160;00:30</text>
<text transform="translate(671.8 583.5) scale(0.94 1)" font-size="12" fill="#000" text-anchor="end">8.0</text>
<text transform="translate(566.2 599.5) scale(0.879 1)" font-size="12" fill="#000" text-anchor="start">Gesamt:</text>
<text transform="translate(671.8 599.5) scale(0.94 1)" font-size="12" fill="#000" text-anchor="end">45.0</text>
<text transform="translate(570.0 615.5) scale(0.876 1)" font-size="12" fill="#000" text-anchor="start">45.0 l/m²</text>
<text transform="translate(671.6 615.5) scale(1.1 1)" font-size="12" fill="#000" text-anchor="end" font-weight="bold">0.6</text>
<text transform="translate(684.0 551.5) scale(1.064 1)" font-size="12" fill="#000" text-anchor="start" font-weight="bold">PMV 0:7</text>
<text transform="translate(684.0 567.5) scale(0.889 1)" font-size="12" fill="#000" text-anchor="start">WC 7.7 °C</text>
<text transform="translate(684.3 583.5) scale(0.892 1)" font-size="12" fill="#000" text-anchor="start">TP 5.3 °C</text></g>
</svg>

</body></html>
